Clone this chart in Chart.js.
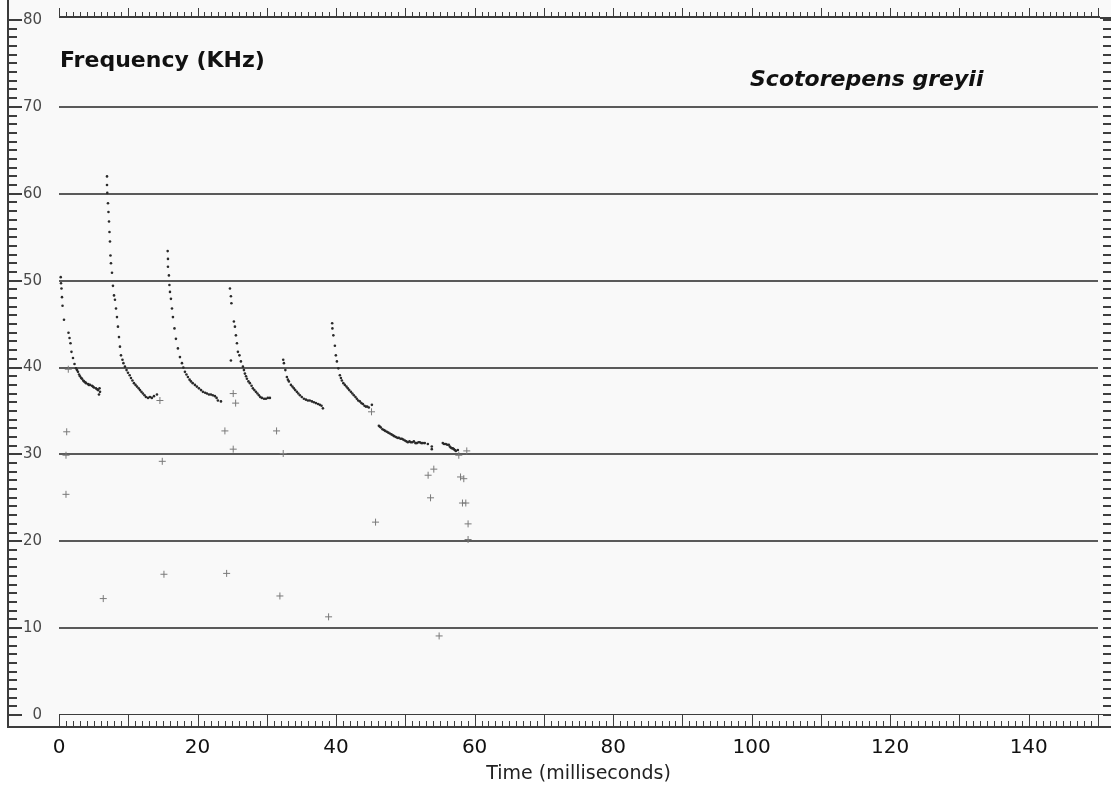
<!DOCTYPE html>
<html>
<head>
<meta charset="utf-8">
<script src="https://cdn.jsdelivr.net/npm/chart.js@4.4.0/dist/chart.umd.min.js"></script>
<style>
  html, body { margin: 0; padding: 0; background: #fff; }
</style>
</head>
<body>
<canvas id="sonogram" width="1111" height="785"></canvas>
<script>
// Readings: [time (ms), frequency (kHz)]
const pulse1 = [[0.25,50.4],[0.29,49.7],[0.36,49.1],[0.43,48.1],[0.51,47.1],[0.72,45.5],[1.37,44.0],[1.52,43.4],
  [1.66,42.8],[1.80,41.8],[2.02,41.1],[2.24,40.4],[2.45,39.9],[2.6,39.7],[2.74,39.5],[2.9,39.2],[3.03,39.0],
  [3.2,38.8],[3.32,38.7],[3.5,38.5],[3.61,38.4],[3.8,38.3],[3.90,38.2],[4.18,38.1],[4.3,38.0],[4.47,38.0],
  [4.76,37.9],[4.9,37.8],[5.05,37.7],[5.34,37.6],[5.5,37.5],[5.63,37.4],[5.85,37.6],[5.92,37.2],[5.77,36.9]];
const pulse2 = [[6.93,62.0],[6.93,61.0],[6.97,60.1],[7.07,58.9],[7.14,57.9],[7.22,56.8],[7.29,55.6],[7.36,54.5],
  [7.43,52.9],[7.50,52.0],[7.65,50.9],[7.79,49.4],[7.94,48.3],[8.08,47.8],[8.23,46.8],[8.37,45.8],[8.51,44.7],
  [8.66,43.5],[8.80,42.4],[8.95,41.4],[9.16,40.9],[9.3,40.5],[9.52,40.1],[9.75,39.7],[9.96,39.4],[10.2,39.1],
  [10.39,38.8],[10.6,38.5],[10.82,38.2],[11.05,38.0],[11.26,37.8],[11.5,37.6],[11.69,37.4],[11.9,37.2],
  [12.12,37.0],[12.35,36.8],[12.55,36.6],[12.85,36.5],[13.13,36.6],[13.4,36.5],[13.71,36.7],[14.14,36.9]];
const pulse3 = [[15.69,53.4],[15.73,52.5],[15.73,51.6],[15.87,50.6],[15.94,49.5],[16.02,48.7],[16.16,47.9],
  [16.31,46.8],[16.45,45.8],[16.67,44.5],[16.88,43.3],[17.17,42.2],[17.46,41.2],[17.75,40.5],[17.95,40.0],
  [18.18,39.5],[18.4,39.2],[18.61,38.9],[18.85,38.6],[19.05,38.4],[19.3,38.2],[19.62,38.0],[19.9,37.8],
  [20.20,37.6],[20.5,37.4],[20.78,37.2],[21.1,37.1],[21.36,37.0],[21.65,36.9],[21.93,36.9],[22.2,36.8],
  [22.51,36.7],[22.75,36.5],[22.94,36.2],[23.38,36.1]];
const pulse4 = [[24.68,49.1],[24.82,48.2],[24.89,47.4],[25.25,45.3],[25.40,44.7],[25.54,43.7],[25.69,42.8],
  [25.83,41.8],[26.05,41.4],[26.26,40.7],[26.55,40.1],[26.7,39.7],[26.84,39.3],[27.0,39.0],[27.13,38.7],
  [27.35,38.4],[27.56,38.2],[27.8,37.9],[27.99,37.6],[28.2,37.4],[28.43,37.2],[28.65,37.0],[28.86,36.8],
  [29.05,36.6],[29.29,36.5],[29.6,36.4],[29.87,36.4],[30.15,36.5],[30.45,36.5],[24.82,40.8]];
const pulse5 = [[32.37,40.9],[32.47,40.5],[32.68,39.7],[32.90,38.9],[33.05,38.6],[33.19,38.4],[33.48,38.0],
  [33.7,37.8],[33.91,37.6],[34.1,37.4],[34.34,37.2],[34.55,37.0],[34.78,36.8],[35.05,36.6],[35.35,36.4],
  [35.65,36.3],[35.93,36.2],[36.2,36.2],[36.51,36.1],[36.8,36.0],[37.09,35.9],[37.4,35.8],[37.66,35.7],
  [37.9,35.6],[38.10,35.3]];
const pulse6 = [[39.44,45.1],[39.47,44.5],[39.61,43.7],[39.83,42.5],[39.97,41.4],[40.12,40.7],[40.33,39.9],
  [40.55,39.1],[40.7,38.8],[40.84,38.5],[41.05,38.2],[41.27,38.0],[41.5,37.8],[41.70,37.6],[41.9,37.4],
  [42.14,37.2],[42.35,37.0],[42.57,36.8],[42.8,36.6],[43.00,36.4],[43.2,36.2],[43.43,36.1],[43.65,35.9],
  [43.87,35.8],[44.1,35.6],[44.30,35.5],[44.5,35.5],[44.73,35.4],[45.17,35.7]];
const pulse7 = [[46.18,33.3],[46.3,33.2],[46.47,33.1],[46.7,32.9],[46.90,32.8],[47.1,32.7],[47.33,32.6],
  [47.55,32.5],[47.76,32.4],[48.0,32.3],[48.20,32.2],[48.4,32.1],[48.63,32.0],[48.85,31.9],[49.06,31.9],
  [49.3,31.8],[49.49,31.8],[49.7,31.7],[49.93,31.6],[50.15,31.5],[50.36,31.4],[50.6,31.5],[50.79,31.4],
  [51.0,31.4],[51.23,31.5],[51.45,31.3],[51.66,31.3],[51.9,31.4],[52.09,31.4],[52.3,31.3],[52.53,31.3],
  [52.81,31.3],[53.25,31.2],[53.82,30.9],[53.82,30.6],[55.41,31.3],[55.6,31.2],[55.84,31.2],[56.05,31.1],
  [56.28,31.1],[56.42,30.9],[56.55,30.8],[56.71,30.7],[56.85,30.7],[57.00,30.6],[57.15,30.5],[57.29,30.4],
  [57.58,30.5]];
const strayPoints = [[1.11,32.6],[1.34,39.8],[1.01,29.9],[1.01,25.4],[6.39,13.4],[14.57,36.2],[14.91,29.2],
  [15.15,16.2],[23.95,32.7],[24.20,16.3],[25.15,37.0],[25.50,35.9],[25.15,30.6],[31.41,32.7],[31.89,13.7],
  [32.37,30.1],[38.92,11.3],[45.12,34.9],[45.70,22.2],[53.29,27.6],[54.11,28.3],[53.64,25.0],[54.88,9.1],
  [57.72,29.9],[58.87,30.4],[57.97,27.4],[58.44,27.2],[58.25,24.4],[58.73,24.4],[59.06,22.0],[59.06,20.2]];

const xTickValues = [0, 20, 40, 60, 80, 100, 120, 140];
const yTickValues = [0, 10, 20, 30, 40, 50, 60, 70, 80];
const timeRange = [0, 150];
const freqRange = [0, 80];

const chartTitle = 'Frequency (KHz)';
const speciesName = 'Scotorepens greyii';
const xAxisTitle = 'Time (milliseconds)';

const toXY = arr => arr.map(p => ({ x: p[0], y: p[1] }));

function dotSet(label, arr) {
  return {
    label: label,
    data: toXY(arr),
    pointRadius: 1.3,
    pointBackgroundColor: '#2a2a2a',
    pointBorderWidth: 0,
    showLine: false
  };
}

// draws the measuring rulers round the plot and the two captions
const rulerPlugin = {
  id: 'rulers',
  beforeDraw(chart) {
    const ctx = chart.ctx;
    ctx.save();
    ctx.fillStyle = '#f9f9f9';
    ctx.fillRect(8, 0, chart.width - 8, 728);
    ctx.restore();
  },
  afterDraw(chart) {
    const { ctx, chartArea, scales } = chart;
    const x = scales.x, y = scales.y;
    const seg = (x1, y1, x2, y2) => { ctx.beginPath(); ctx.moveTo(x1, y1); ctx.lineTo(x2, y2); ctx.stroke(); };
    ctx.save();
    ctx.strokeStyle = '#3c3c3c';

    // left ruler and right ruler, one tick per kHz
    ctx.lineWidth = 2;
    seg(8, 0, 8, 728);
    for (let k = freqRange[0]; k <= freqRange[1]; k++) {
      const py = Math.round(y.getPixelForValue(k));
      seg(8, py, k % 10 === 0 ? 22 : 17, py);
      seg(1103, py, 1111, py);
    }

    // bottom ruler, one tick per ms
    const bTop = Math.round(chartArea.bottom) - 0.5;
    ctx.lineWidth = 1;
    seg(chartArea.left, bTop, chart.width, bTop);
    ctx.lineWidth = 2;
    seg(8, 727, chart.width, 727);
    // top ruler
    const tBase = Math.round(chartArea.top) - 3;
    seg(chartArea.left, tBase, chartArea.right + 2, tBase);
    seg(chartArea.right + 2, tBase + 1, chart.width, tBase + 1);
    ctx.lineWidth = 1;
    for (let t = timeRange[0]; t <= timeRange[1]; t++) {
      const px = Math.round(x.getPixelForValue(t)) + 0.5;
      if (t % 10 === 0) {
        seg(px, bTop, px, 727);
        seg(px, tBase - 9, px, tBase);
      } else {
        seg(px, 721, px, 727);
        seg(px, tBase - 5, px, tBase);
      }
    }

    // captions inside the plot
    ctx.fillStyle = '#111';
    ctx.textBaseline = 'alphabetic';
    ctx.font = 'bold 22px "DejaVu Sans"';
    ctx.fillText(chartTitle, 60, 67);
    ctx.font = 'italic bold 22px "DejaVu Sans"';
    ctx.fillText(speciesName, 750, 86);
    ctx.restore();
  }
};

new Chart(document.getElementById('sonogram'), {
  type: 'scatter',
  data: {
    datasets: [
      dotSet('pulse 1', pulse1),
      dotSet('pulse 2', pulse2),
      dotSet('pulse 3', pulse3),
      dotSet('pulse 4', pulse4),
      dotSet('pulse 5', pulse5),
      dotSet('pulse 6', pulse6),
      dotSet('pulse 7', pulse7),
      {
        label: 'stray',
        data: toXY(strayPoints),
        pointStyle: 'cross',
        pointRadius: 3.5,
        pointBorderColor: '#7a7a7a',
        pointBorderWidth: 1
      }
    ]
  },
  options: {
    responsive: false,
    animation: false,
    layout: { padding: { top: 20, right: 13, left: 0, bottom: 0 } },
    plugins: { legend: { display: false }, tooltip: { enabled: false } },
    scales: {
      x: {
        type: 'linear',
        min: timeRange[0],
        max: timeRange[1],
        afterBuildTicks: scale => { scale.ticks = xTickValues.map(v => ({ value: v })); },
        afterFit: scale => { scale.height = 70; },
        grid: { display: false },
        border: { display: false },
        ticks: {
          padding: 13,
          maxRotation: 0,
          autoSkip: false,
          color: '#111',
          font: { family: 'DejaVu Sans', size: 20 }
        },
        title: {
          display: true,
          text: xAxisTitle,
          color: '#222',
          padding: { top: 0, bottom: 0 },
          font: { family: 'DejaVu Sans', size: 19 }
        }
      },
      y: {
        type: 'linear',
        min: freqRange[0],
        max: freqRange[1],
        afterBuildTicks: scale => { scale.ticks = yTickValues.map(v => ({ value: v })); },
        afterFit: scale => { scale.width = 59; scale.paddingTop = 0; scale.paddingBottom = 0; },
        border: { display: false },
        grid: {
          drawTicks: false,
          lineWidth: 2,
          color: c => (c.tick && (c.tick.value === freqRange[0] || c.tick.value === freqRange[1])) ? 'rgba(0,0,0,0)' : '#5a5a5a'
        },
        ticks: {
          padding: 17,
          color: '#4a4a4a',
          font: { family: 'DejaVu Sans', size: 15 }
        }
      }
    }
  },
  plugins: [rulerPlugin]
});
</script>
</body>
</html>
